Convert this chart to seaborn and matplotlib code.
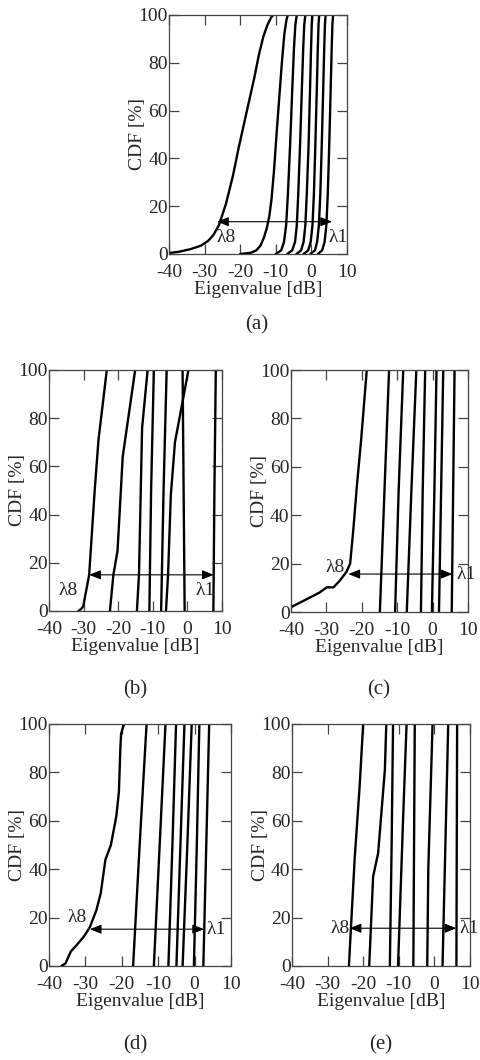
import pandas as pd
import seaborn as sns
import matplotlib.pyplot as plt

# ---- values: per curve eigenvalue [dB] and CDF [%] ----
# order of the lists: lambda1 ... lambda8

# (a)
a_y_steep = [0, 1.5, 5, 12, 25, 45, 68, 86, 96, 100]
a_x = [
    [1.8, 3.0, 3.7, 4.2, 4.6, 5.0, 5.4, 5.7, 5.9, 6.1],
    [-0.3, 1.0, 1.6, 2.1, 2.5, 2.9, 3.3, 3.6, 3.8, 4.0],
    [-2.2, -0.9, -0.2, 0.3, 0.7, 1.1, 1.5, 1.8, 2.0, 2.2],
    [-4.2, -2.9, -2.2, -1.7, -1.3, -0.8, -0.4, -0.1, 0.1, 0.3],
    [-6.8, -5.4, -4.6, -4.1, -3.7, -3.2, -2.7, -2.3, -2.0, -1.7],
    [-10.0, -8.5, -7.7, -7.1, -6.6, -6.0, -5.4, -4.9, -4.5, -4.1],
    [-20, -17, -15.5, -14.3, -13.3, -12.5, -11.8, -11.2, -10.5, -9.8, -9.0, -8.3, -7.6, -7.0, -6.6],
    [-40, -37, -34, -31, -29, -27.5, -26, -24, -22, -20.5, -19, -17.5, -16, -14.8, -13.5, -12.3, -11.3, -10.7],
]
a_y = [a_y_steep] * 6 + [
    [0, 0.5, 1.5, 3.5, 7, 11, 16, 23, 35, 50, 66, 80, 92, 98, 100],
    [0.4, 1, 2, 3.5, 5.5, 8, 12, 21, 33, 44, 54, 64, 74, 83, 91, 96, 99, 100],
]

# (b)
b_x = [
    [7.5, 7.8, 8.2],
    [-0.8, -1.1, -1.4],
    [-6.2, -5.6, -4.8, -3.6, 0.3],
    [-7.6, -6.9, -6.0],
    [-11.0, -10.5, -9.7],
    [-14.6, -14.0, -13.1, -11.5],
    [-22.4, -21.4, -20.2, -18.7, -15.1],
    [-31.5, -30.6, -30.1, -28.4, -26.8, -25.7, -23.3],
]
b_y = [
    [0, 50, 100],
    [0, 50, 100],
    [0, 15, 48, 70, 100],
    [0, 50, 100],
    [0, 50, 100],
    [0, 15, 76, 100],
    [0, 15, 25, 64, 100],
    [0, 1, 2, 15, 50, 71, 100],
]

# (c)
c_x = [
    [5.4, 5.8, 6.2],
    [1.8, 2.4, 3.0],
    [-0.2, 0.5, 1.1],
    [-3.3, -2.8, -2.1],
    [-7.3, -6.0, -4.6],
    [-10.6, -9.6, -8.3],
    [-14.9, -13.6, -12.3],
    [-40, -36, -32, -29.9, -28, -26.2, -24.3, -23.3, -22.4, -21.4, -20.2, -18.6],
]
c_y = [[0, 50, 100]] * 7 + [
    [2, 5, 8, 10.2, 10.2, 13, 16.7, 20, 34, 52, 71, 100],
]

# (d)
d_x = [
    [2.4, 3.2, 4.0],
    [-0.2, 0.6, 1.3],
    [-3.3, -2.0, -0.8],
    [-5.0, -3.9, -2.8],
    [-7.2, -6.1, -5.1],
    [-11.2, -9.6, -8.0],
    [-16.9, -15.1, -13.2],
    [-36.6, -35.5, -34, -32.5, -30.5, -28.8, -27, -25.8, -24.5, -23, -21.5, -20.8, -20.4, -20.2, -19.4],
]
d_y = [[0, 50, 100]] * 7 + [
    [0, 1, 6, 8.5, 12, 16, 23, 30, 44, 50, 62, 72, 90, 96, 100],
]

# (e)
e_x = [
    [6.2, 6.3, 6.4],
    [2.3, 3.1, 3.9],
    [-2.0, -1.7, -0.5],
    [-5.9, -5.7, -5.5],
    [-10.2, -8.8, -7.8],
    [-12.5, -12.0, -11.6],
    [-18.3, -17.2, -15.8, -13.9, -13.5],
    [-24, -22.4, -21, -20],
]
e_y = [
    [0, 50, 100],
    [0, 50, 100],
    [0, 40, 100],
    [0, 50, 100],
    [0, 60, 100],
    [0, 50, 100],
    [0, 37, 46.5, 81, 100],
    [0, 44, 74, 100],
]

# arrow: (cdf level, left tip, right tip); labels: (x, y) of lambda8 / lambda1
arrows = {
    "a": (13.5, -26.5, 5.8),
    "b": (15.0, -28.4, 7.6),
    "c": (15.7, -23.8, 5.6),
    "d": (15.2, -28.8, 2.6),
    "e": (15.6, -23.8, 6.2),
}
lab8 = {"a": (-24, 7), "b": (-34.5, 8.3), "c": (-27.5, 18.6), "d": (-32.2, 20), "e": (-26.6, 15.6)}
lab1 = {"a": (7.4, 7), "b": (5.2, 8.3), "c": (9.6, 15.7), "d": (6.0, 15), "e": (9.7, 15.6)}

# axes boxes in figure fractions (left, bottom, width, height)
boxes = {
    "a": (0.3514, 0.7604, 0.370, 0.2255),
    "b": (0.1019, 0.4236, 0.3597, 0.2274),
    "c": (0.6050, 0.4226, 0.3680, 0.2283),
    "d": (0.1019, 0.0887, 0.3784, 0.2283),
    "e": (0.6070, 0.0887, 0.3700, 0.2283),
}
panel_pos = {"a": (0.534, 0.694), "b": (0.281, 0.349), "c": (0.788, 0.349),
             "d": (0.281, 0.014), "e": (0.792, 0.014)}

data = {"a": (a_x, a_y), "b": (b_x, b_y), "c": (c_x, c_y), "d": (d_x, d_y), "e": (e_x, e_y)}

sns.set_style("ticks")
plt.rcParams["font.family"] = ["Liberation Serif", "DejaVu Serif"]
plt.rcParams["axes.unicode_minus"] = False

FS = 14
W_PX = 481


def to_frame(xs, ys):
    rows = []
    for i, (xx, yy) in enumerate(zip(xs, ys)):
        for x, y in zip(xx, yy):
            rows.append({"eig": x, "cdf": y, "curve": f"l{i + 1}"})
    return pd.DataFrame(rows)


fig = plt.figure(figsize=(4.81, 10.60), dpi=100)

for key, (xs, ys) in data.items():
    ax = fig.add_axes(boxes[key])
    df = to_frame(xs, ys)
    sns.lineplot(data=df, x="eig", y="cdf", units="curve", estimator=None,
                 sort=False, color="black", lw=1.7, ax=ax, legend=False)
    ax.set_xlim(-40, 10)
    ax.set_ylim(0, 100)
    ax.set_xticks([-40, -30, -20, -10, 0, 10])
    ax.set_yticks([0, 20, 40, 60, 80, 100])
    ax.tick_params(direction="in", top=True, right=True, length=7, width=0.9,
                   color="#444444", labelsize=FS)
    ax.tick_params(axis="y", pad=1)
    ax.tick_params(axis="x", pad=7)
    for sp in ax.spines.values():
        sp.set_color("#444444")
        sp.set_linewidth(0.9)
    ax.set_xlabel("Eigenvalue [dB]", fontsize=FS, labelpad=0)
    ax.set_ylabel("CDF [%]", fontsize=FS)
    # anchor is the right edge of the rotated label
    ax.yaxis.set_label_coords(-23.0 / (boxes[key][2] * W_PX), 0.5)

    yv, x0, x1 = arrows[key]
    ax.annotate("", xy=(x1, yv), xytext=(x0, yv),
                arrowprops=dict(arrowstyle="<|-|>,head_length=0.7,head_width=0.28",
                                color="black", lw=0.8, shrinkA=0, shrinkB=0))
    ax.text(*lab8[key], "λ8", ha="center", va="center", fontsize=FS)
    ax.text(*lab1[key], "λ1", ha="center", va="center", fontsize=FS, clip_on=False)

    fig.text(*panel_pos[key], f"({key})", ha="center", va="center", fontsize=FS + 1)

fig.savefig("out.png", dpi=100)
